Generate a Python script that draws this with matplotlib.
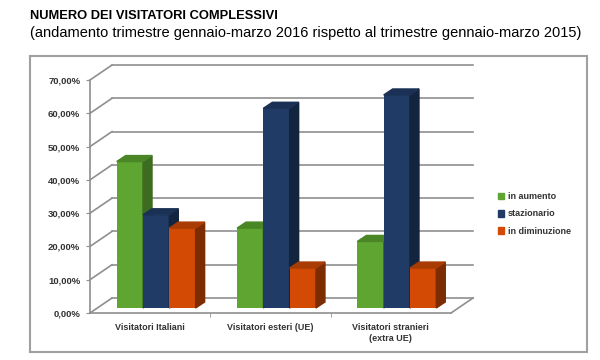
import matplotlib.pyplot as plt
from matplotlib.patches import Polygon, Patch, Rectangle

categorie = ["Visitatori Italiani", "Visitatori esteri (UE)", "Visitatori stranieri\n(extra UE)"]
serie = ["in aumento", "stazionario", "in diminuzione"]
in_aumento = [44, 24, 20]
stazionario = [28, 60, 64]
in_diminuzione = [24, 12, 12]
valori = [in_aumento, stazionario, in_diminuzione]

col_front = ["#5fa532", "#1f3b66", "#d34a05"]
col_side = ["#3d6b1f", "#13243f", "#7d2c02"]
col_top = ["#4a8626", "#1a3155", "#a83c04"]

plt.rcParams['font.family'] = ['Liberation Sans', 'DejaVu Sans']

fig = plt.figure(figsize=(6, 3.6), dpi=100)
ax = fig.add_axes([90/600, 47/360, 361/600, 233/360])
ax.set_xlim(-0.5, 2.5)
ax.set_ylim(0, 70)

# pixel -> data
px = 3 / 361.0
py = 70 / 233.0
grey = "#8f8f8f"

# back wall / floor
wdx, wdy = 22*px, 15*py
for t in range(0, 71, 10):
    ax.plot([-0.5, -0.5+wdx], [t, t+wdy], color=grey, lw=1.2, clip_on=False, zorder=1)
    ax.plot([-0.5+wdx, 2.5+wdx], [t+wdy, t+wdy], color=grey, lw=1.2, clip_on=False, zorder=1)
ax.plot([2.5, 2.5+wdx], [0, wdy], color=grey, lw=1.2, clip_on=False, zorder=1)

# bars
w = 26.3*px
pdx, pdy = 6*px, 5*py
ddx, ddy = 9*px, 6*py
z = 3
for c in range(3):
    for i in range(3):
        v = valori[i][c]
        x = c + (i-1)*w + pdx
        b = pdy
        ax.bar(x, v, w, bottom=b, color=col_front[i], zorder=z)
        r = x + w/2
        l = x - w/2
        ax.add_patch(Polygon([(r, b), (r, b+v), (r+ddx, b+v+ddy), (r+ddx, b+ddy)],
                             closed=True, color=col_side[i], zorder=z+0.1, clip_on=False))
        ax.add_patch(Polygon([(l, b+v), (r, b+v), (r+ddx, b+v+ddy), (l+ddx, b+v+ddy)],
                             closed=True, color=col_top[i], zorder=z+0.1, clip_on=False))
        z += 1

for s in ['top', 'right']:
    ax.spines[s].set_visible(False)
for s in ['left', 'bottom']:
    ax.spines[s].set_color(grey)
    ax.spines[s].set_linewidth(1.2)
ax.set_facecolor('none')

ax.set_yticks(range(0, 71, 10))
ax.set_yticklabels(["%d,00%%" % t for t in range(0, 71, 10)], fontsize=6.8,
                   color="#333333", fontweight='bold')
ax.tick_params(axis='y', length=3, color=grey, pad=4)
ax.set_xticks(range(3))
ax.set_xticklabels(categorie, fontsize=6.5, color="#333333", linespacing=1.35, fontweight='bold')
ax.tick_params(axis='x', length=0, pad=7)
ax.set_xticks([0.5, 1.5], minor=True)
ax.tick_params(axis='x', which='minor', length=3, color=grey)

handles = [Patch(color=col_front[i], label=serie[i]) for i in range(3)]
leg = fig.legend(handles=handles, loc='center left', bbox_to_anchor=(490/600, 1-214/360),
                 frameon=False, fontsize=6.5, handlelength=0.7, handleheight=0.7,
                 handletextpad=0.4, labelspacing=0.9)
for t in leg.get_texts():
    t.set_fontweight('bold')
    t.set_color("#333333")

fig.patches.append(Rectangle((30/600, 1-352/360), 557/600, 296/360, transform=fig.transFigure,
                             fill=False, edgecolor="#a0a0a0", lw=1.5))

fig.text(30/600, 1-16/360, "NUMERO DEI VISITATORI COMPLESSIVI", fontsize=9.3,
         fontweight='bold', va='center', ha='left')
fig.text(30/600, 1-33/360, "(andamento trimestre gennaio-marzo 2016 rispetto al trimestre gennaio-marzo 2015)",
         fontsize=10.5, va='center', ha='left')

fig.savefig("out.png", dpi=100)
